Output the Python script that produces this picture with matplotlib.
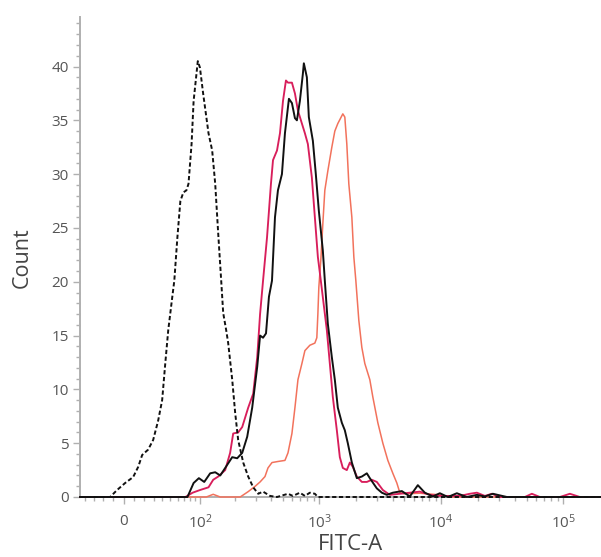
import numpy as np
import matplotlib
matplotlib.use("Agg")
import matplotlib.pyplot as plt
from matplotlib.ticker import FixedLocator, NullFormatter

plt.rcParams['font.family'] = ['Open Sans', 'DejaVu Sans']

# ---- data (FITC-A intensity, count) ----
ctrl_x = [-46, -12.9, -6.2, 1.4, 9.0, 13.9, 17.8, 23.9, 29.3, 34.9, 39.6, 43.4, 47.2, 52.6,
          55.4, 59.8, 64.3, 69.0, 74.1, 77.6, 83.1, 86.9, 95.1, 99.5, 106.4, 113.7, 118.9,
          128.1, 136.2, 144.6, 153.5, 159.7, 169.4, 176.2, 190.6, 202, 214, 235.9, 259.7,
          285.8, 314.6, 345, 394, 450, 554, 608, 694, 763, 838, 921, 975, 200000]
ctrl_y = [0, 0, 0.65, 1.3, 1.85, 2.8, 3.9, 4.4, 5.3, 7.1, 9.0, 12.4, 15.5, 18.6,
          20.1, 24.1, 27.5, 28.3, 28.5, 29.1, 32.8, 36.8, 40.5, 39.9, 37.5, 35.3, 33.8,
          32.2, 29.1, 24.5, 20.1, 17.1, 15.5, 14.3, 10.9, 7.8, 5.3, 3.2, 1.9,
          0.9, 0.3, 0.5, 0.1, 0, 0.3, 0.1, 0.4, 0.1, 0.4, 0.3, 0, 0]

crimson_x = [-46, 72.4, 85.0, 99.8, 118.9, 130.8, 144.6, 166.1, 183, 194.3, 214, 231.4, 259.7,
             285.8, 308.7, 326, 345, 372, 401, 417, 450, 476, 504, 533, 554, 597, 632, 669,
             721, 763, 807, 870, 921, 975, 1031, 1155, 1222, 1293, 1395, 1476, 1562, 1684,
             1783, 1887, 2035, 2236, 2457, 2700, 2967, 3324, 3793, 4581, 5532, 6681, 8069,
             9745, 14210, 17170, 19594, 22800, 26004, 30240, 48460, 55290, 64300, 93800,
             113300, 136800, 200000]
crimson_y = [0, 0, 0.4, 0.65, 0.9, 1.6, 1.9, 2.5, 4.1, 5.9, 6.0, 6.5, 8.3,
             9.6, 13, 17, 20.1, 24.1, 29.1, 31.3, 32.2, 33.8, 36.8, 38.7, 38.5, 38.5, 37.5, 35.9,
             34.7, 33.8, 32.8, 29.7, 26, 22.3, 20.1, 15.5, 12.4, 9.3, 6.2, 3.7, 2.7, 2.5,
             3.2, 2.8, 1.9, 1.4, 1.4, 1.6, 1.4, 0.65, 0.2, 0.3, 0.4, 0.5, 0.2,
             0.1, 0.1, 0.3, 0.4, 0.1, 0.3, 0, 0, 0.3, 0, 0,
             0.3, 0, 0]

black_x = [-46, 75.8, 86.9, 97.3, 108.9, 123, 136.2, 150.6, 166.1, 190.6, 210, 231.4, 254.8,
           280.4, 308.7, 326, 345, 365, 386, 409, 433, 458, 494, 523, 564, 597, 632, 656, 694,
           734, 748, 792, 822, 887, 938, 993, 1071, 1112, 1177, 1269, 1343, 1421, 1533, 1622,
           1716, 1852, 2035, 2236, 2457, 2600, 2967, 3262, 3585, 4014, 4757, 5532, 6433,
           7342, 8539, 9745, 11333, 13432, 16217, 19594, 22800, 26497, 34510, 200000]
black_y = [0, 0, 1.3, 1.75, 1.4, 2.2, 2.3, 2.0, 2.7, 3.7, 3.6, 4.1, 5.6,
           8.3, 12.1, 15, 14.8, 15.2, 18.6, 20.1, 26, 28.5, 30, 33.8, 37, 36.6, 35.2, 35, 36.8,
           39.3, 40.3, 39, 35.3, 33.1, 30, 26.6, 22.9, 20.1, 16.1, 13, 10.9, 8.3, 6.9, 6.2,
           5.0, 3.2, 1.75, 1.9, 2.2, 1.75, 0.8, 0.4, 0.2, 0.4, 0.55, 0.05, 1.1,
           0.4, 0.05, 0.35, 0, 0.35, 0, 0.2, 0.05, 0.3, 0, 0]

salmon_x = [-46, 113.7, 130.8, 150.6, 222.6, 259.7, 297, 326, 358, 379, 409, 458, 523, 554, 597,
            632, 669, 721, 763, 838, 921, 956, 975, 993, 1031, 1071, 1112, 1155, 1177, 1269,
            1343, 1421, 1562, 1622, 1684, 1749, 1852, 1923, 1997, 2113, 2236, 2366, 2600,
            2751, 3024, 3324, 3653, 4014, 4329, 4581, 5034, 6681, 9745, 11770, 200000]
salmon_y = [0, 0, 0.25, 0, 0, 0.5, 1.0, 1.4, 1.9, 2.7, 3.2, 3.3, 3.4, 4.1, 5.9,
            8.3, 10.9, 12.4, 13.6, 14.1, 14.3, 14.8, 17, 19.5, 22, 25.4, 28.5, 29.7, 30.3, 32.5,
            34, 34.7, 35.6, 35.3, 32.8, 29.1, 26, 22.3, 20.1, 16.4, 13.9, 12.4, 10.9,
            9.3, 6.9, 5.0, 3.4, 2.2, 1.3, 0.4, 0.3, 0.35, 0.2, 0, 0]

major_ticks = [0, 1e2, 1e3, 1e4, 1e5]
major_labels = ['0', r'$\mathregular{10^2}$', r'$\mathregular{10^3}$',
                r'$\mathregular{10^4}$', r'$\mathregular{10^5}$']

W = 50.0
def fwd(x):
    return np.arcsinh(np.asarray(x, dtype=float) / W) / np.log(10)
def inv(u):
    return W * np.sinh(np.asarray(u, dtype=float) * np.log(10))

fig = plt.figure(figsize=(6.01, 5.57), dpi=100)
ax = fig.add_axes([80/601, 60/557, 520/601, 480/557])
ax.set_xscale('function', functions=(fwd, inv))

ax.plot(salmon_x, salmon_y, color='#f2725c', lw=1.1, zorder=3, clip_on=False)
ax.plot(crimson_x, crimson_y, color='#d81e5b', lw=1.35, zorder=4, clip_on=False)
ax.plot(black_x, black_y, color='#111111', lw=1.4, zorder=5, clip_on=False)
ax.plot(ctrl_x, ctrl_y, color='#111111', lw=1.4, ls=(0, (2.2, 1.3)), zorder=6, clip_on=False)

ax.set_xlim(-46, 2.0e5)
ax.set_ylim(0, 44.6)

ax.xaxis.set_major_locator(FixedLocator(major_ticks))
ax.set_xticklabels(major_labels)
minor = [-40, -30, -20, -10] + [k * 10 for k in range(1, 10)] + \
        [k * m for m in (100, 1000, 10000) for k in range(2, 10)]
ax.xaxis.set_minor_locator(FixedLocator(minor))
ax.xaxis.set_minor_formatter(NullFormatter())

ax.set_yticks(np.arange(0, 41, 5))
ax.yaxis.set_minor_locator(FixedLocator(np.arange(0, 45, 1)))

for s in ('top', 'right'):
    ax.spines[s].set_visible(False)
for s in ('left', 'bottom'):
    ax.spines[s].set_color('#b0b0b0')
    ax.spines[s].set_linewidth(1.4)
    ax.spines[s].set_zorder(2)

ax.tick_params(axis='both', which='major', color='#b0b0b0', width=1.0, length=5,
               labelsize=11, labelcolor='#555555')
ax.tick_params(axis='both', which='minor', color='#b0b0b0', width=1.0, length=3)
ax.tick_params(axis='x', which='major', pad=7)
ax.tick_params(axis='y', which='major', pad=3)

ax.set_xlabel('FITC-A', fontsize=16, color='#444444')
ax.set_ylabel('Count', fontsize=15.5, color='#444444')
ax.xaxis.set_label_coords((351 - 80) / 520, -(545 - 497) / 480, transform=ax.transAxes)
ax.yaxis.set_label_coords((22 - 80) / 520, (497 - 258) / 480, transform=ax.transAxes)
ax.xaxis.label.set_va('center')
ax.yaxis.label.set_va('center')

fig.savefig('out.png', dpi=100)
